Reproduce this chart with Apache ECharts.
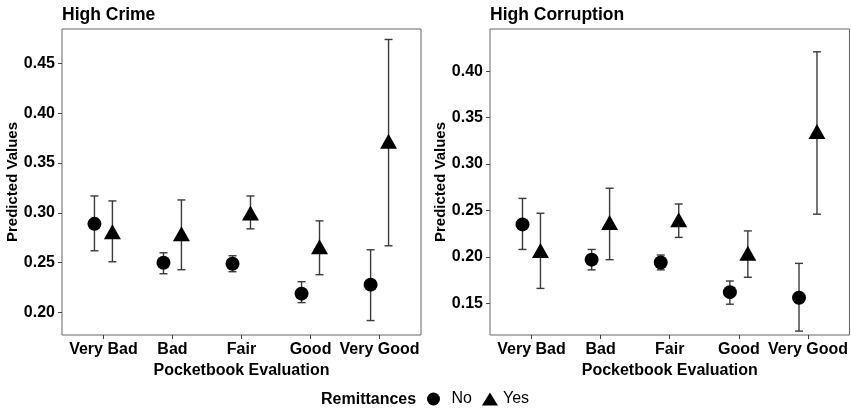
<!DOCTYPE html>
<html>
<head>
<meta charset="utf-8">
<script src="https://cdn.jsdelivr.net/npm/echarts@6/dist/echarts.min.js"></script>
<style>
html,body{margin:0;padding:0;background:#fff;}
#chart{width:851px;height:411px;}
</style>
</head>
<body>
<div id="chart"></div>
<script>
// ---- data ----
const categories = ['Very Bad', 'Bad', 'Fair', 'Good', 'Very Good'];
const panelTitles = ['High Crime', 'High Corruption'];
const crimeNo    = [0.289, 0.250, 0.249, 0.219, 0.228];
const crimeNoLo  = [0.262, 0.239, 0.241, 0.210, 0.192];
const crimeNoHi  = [0.317, 0.260, 0.257, 0.231, 0.263];
const crimeYes   = [0.281, 0.279, 0.300, 0.266, 0.372];
const crimeYesLo = [0.251, 0.243, 0.284, 0.238, 0.267];
const crimeYesHi = [0.312, 0.313, 0.317, 0.292, 0.474];
const corrNo     = [0.235, 0.197, 0.194, 0.162, 0.156];
const corrNoLo   = [0.208, 0.186, 0.186, 0.149, 0.120];
const corrNoHi   = [0.263, 0.208, 0.202, 0.174, 0.193];
const corrYes    = [0.207, 0.237, 0.240, 0.204, 0.335];
const corrYesLo  = [0.166, 0.197, 0.221, 0.178, 0.246];
const corrYesHi  = [0.247, 0.274, 0.257, 0.228, 0.421];
const crimeTicks = [0.20, 0.25, 0.30, 0.35, 0.40, 0.45];
const corrTicks  = [0.15, 0.20, 0.25, 0.30, 0.35, 0.40];

// ---- build ----
const DODGE = 0.13;
const FONT = 'Liberation Sans, Arial, sans-serif';
const pts = (vals, off) => vals.map((v, i) => [i + 1 + off, v]);
const bars = (lo, hi, off) => lo.map((l, i) => [i + 1 + off, l, hi[i]]);
const catPos = categories.map((c, i) => i + 1);

function errRender(params, api) {
  const x = api.value(0);
  const a = api.coord([x, api.value(1)]);
  const b = api.coord([x, api.value(2)]);
  const w = 4;
  const st = { stroke: '#3a3a3a', lineWidth: 1.4 };
  return {
    type: 'group',
    children: [
      { type: 'line', shape: { x1: a[0], y1: a[1], x2: b[0], y2: b[1] }, style: st },
      { type: 'line', shape: { x1: a[0] - w, y1: a[1], x2: a[0] + w, y2: a[1] }, style: st },
      { type: 'line', shape: { x1: b[0] - w, y1: b[1], x2: b[0] + w, y2: b[1] }, style: st }
    ]
  };
}

const grids = [
  { left: 62, right: 430, top: 29, bottom: 76 },
  { left: 490, right: 1, top: 29, bottom: 76 }
];
const yRanges = [[0.1775, 0.4845], [0.1158, 0.4456]];
const yTicks = [crimeTicks, corrTicks];

const xAxes = grids.map((g, k) => ({
  type: 'value', gridIndex: k, min: 0.4, max: 5.6,
  splitLine: { show: false },
  axisLine: { show: false },
  axisTick: { show: true, customValues: catPos, length: 4, lineStyle: { color: '#444' } },
  axisLabel: {
    customValues: catPos, margin: 7, color: '#000', fontWeight: 'bold', fontSize: 16, fontFamily: FONT,
    formatter: v => categories[Math.round(v) - 1]
  },
  name: 'Pocketbook Evaluation', nameLocation: 'middle', nameGap: 24,
  nameTextStyle: { color: '#000', fontWeight: 'bold', fontSize: 16, fontFamily: FONT }
}));
const yAxes = grids.map((g, k) => ({
  type: 'value', gridIndex: k, min: yRanges[k][0], max: yRanges[k][1],
  splitLine: { show: false },
  axisLine: { show: false },
  axisTick: { show: true, customValues: yTicks[k], length: 4, lineStyle: { color: '#444' } },
  axisLabel: {
    customValues: yTicks[k], margin: 7, color: '#000', fontWeight: 'bold', fontSize: 16, fontFamily: FONT,
    formatter: v => v.toFixed(2)
  },
  name: 'Predicted Values', nameLocation: 'middle', nameGap: 40,
  nameTextStyle: { color: '#000', fontWeight: 'bold', fontSize: 15, fontFamily: FONT }
}));

const panelData = [
  { no: crimeNo, noLo: crimeNoLo, noHi: crimeNoHi, yes: crimeYes, yesLo: crimeYesLo, yesHi: crimeYesHi },
  { no: corrNo, noLo: corrNoLo, noHi: corrNoHi, yes: corrYes, yesLo: corrYesLo, yesHi: corrYesHi }
];
const series = [];
panelData.forEach((d, k) => {
  series.push({ type: 'custom', name: 'errNo' + k, xAxisIndex: k, yAxisIndex: k, renderItem: errRender,
    data: bars(d.noLo, d.noHi, -DODGE), z: 2, silent: true });
  series.push({ type: 'custom', name: 'errYes' + k, xAxisIndex: k, yAxisIndex: k, renderItem: errRender,
    data: bars(d.yesLo, d.yesHi, DODGE), z: 2, silent: true });
  series.push({ type: 'scatter', name: 'No', xAxisIndex: k, yAxisIndex: k, symbol: 'circle', symbolSize: 14,
    itemStyle: { color: '#000', opacity: 1 }, data: pts(d.no, -DODGE), z: 3 });
  series.push({ type: 'scatter', name: 'Yes', xAxisIndex: k, yAxisIndex: k, symbol: 'triangle', symbolSize: [17, 15],
    itemStyle: { color: '#000', opacity: 1 }, data: pts(d.yes, DODGE), z: 3 });
});

const option = {
  backgroundColor: '#fff',
  animation: false,
  title: [
    { text: panelTitles[0], left: 62, top: 6, padding: 0, textStyle: { fontSize: 17.5, fontWeight: 'bold', color: '#000', fontFamily: FONT } },
    { text: panelTitles[1], left: 490, top: 6, padding: 0, textStyle: { fontSize: 17.5, fontWeight: 'bold', color: '#000', fontFamily: FONT } }
  ],
  grid: grids.map(g => Object.assign({ show: true, borderColor: '#666', borderWidth: 1, backgroundColor: '#fff' }, g)),
  xAxis: xAxes,
  yAxis: yAxes,
  legend: {
    data: [
      { name: 'No', icon: 'circle', textStyle: { padding: [0, 0, 0, 5] } },
      { name: 'Yes', icon: 'triangle', textStyle: { padding: [0, 0, 0, 0] } }
    ],
    left: 427, top: 391, padding: 0, itemWidth: 16, itemHeight: 13, itemGap: 10,
    textStyle: { fontSize: 16, color: '#000', fontFamily: FONT },
    selectedMode: false
  },
  graphic: [{
    type: 'text', left: 321, top: 392,
    style: { text: 'Remittances', font: 'bold 16px ' + FONT, fill: '#000' }
  }],
  series: series
};
const chart = echarts.init(document.getElementById('chart'), null, { renderer: 'canvas' });
chart.setOption(option);
</script>
</body>
</html>
